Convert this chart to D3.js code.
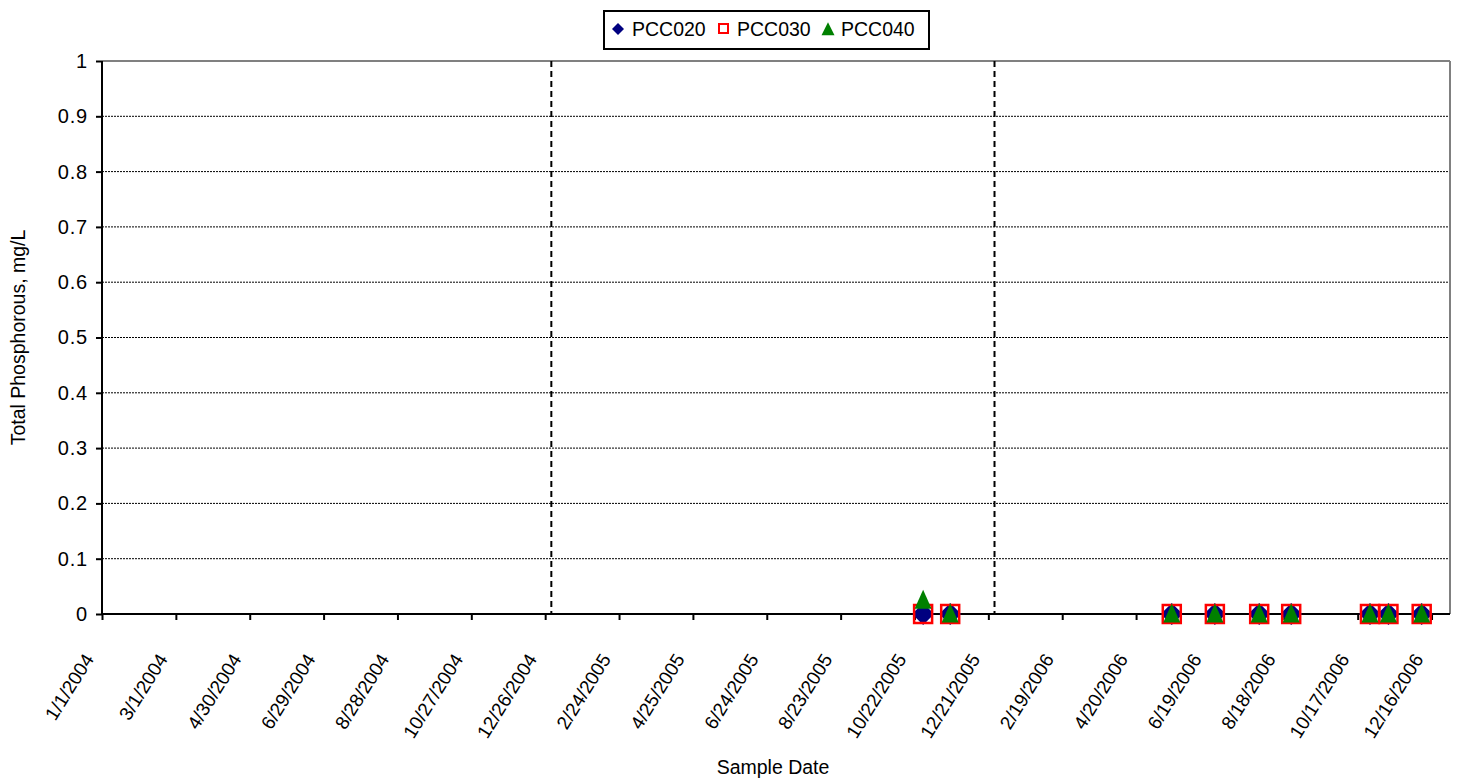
<!DOCTYPE html>
<html><head><meta charset="utf-8">
<script src="https://cdn.jsdelivr.net/npm/d3@7"></script>
<style>body{margin:0;background:#fff;}svg{display:block;font-family:"Liberation Sans",Arial,sans-serif;}</style>
</head><body>
<script>
const tickDates = ["2004-01-01","2004-03-01","2004-04-30","2004-06-29","2004-08-28","2004-10-27","2004-12-26","2005-02-24","2005-04-25","2005-06-24","2005-08-23","2005-10-22","2005-12-21","2006-02-19","2006-04-20","2006-06-19","2006-08-18","2006-10-17","2006-12-16"];
const tickLabels = ["1/1/2004","3/1/2004","4/30/2004","6/29/2004","8/28/2004","10/27/2004","12/26/2004","2/24/2005","4/25/2005","6/24/2005","8/23/2005","10/22/2005","12/21/2005","2/19/2006","4/20/2006","6/19/2006","8/18/2006","10/17/2006","12/16/2006"];
const yTicks = [0,0.1,0.2,0.3,0.4,0.5,0.6,0.7,0.8,0.9,1];
const yLabels = ["0","0.1","0.2","0.3","0.4","0.5","0.6","0.7","0.8","0.9","1"];
const sampleDates = ["2005-10-29","2005-11-20","2006-05-19","2006-06-23","2006-07-29","2006-08-24","2006-10-27","2006-11-11","2006-12-08"];
const pcc020 = [0,0,0,0,0,0,0,0,0];
const pcc030 = [0,0,0,0,0,0,0,0,0];
const pcc040 = [0.025,0,0,0,0,0,0,0,0];
const yearLines = ["2004-12-31","2005-12-26"];
const seriesNames = ["PCC020","PCC030","PCC040"];
const xDomain = ["2004-01-01","2006-12-31"];

const W=1463,H=781;
const L=102,R=1450,T=61,B=614;
const pd = s => new Date(s+"T00:00:00Z");
const svg=d3.select("body").append("svg").attr("width",W).attr("height",H);
const x=d3.scaleUtc().domain(xDomain.map(pd)).range([L,R]);
const y=d3.scaleLinear().domain([0,1]).range([B,T]);

// gridlines
svg.append("g").selectAll("line").data(yTicks.filter(v=>v>0&&v<1)).join("line")
  .attr("x1",L).attr("x2",R).attr("y1",d=>y(d)).attr("y2",d=>y(d))
  .attr("stroke","#000").attr("stroke-width",1).attr("stroke-dasharray","2,1");
// border top/right
svg.append("line").attr("x1",L).attr("x2",R).attr("y1",y(1)).attr("y2",y(1)).attr("stroke","#808080").attr("stroke-width",2);
svg.append("line").attr("x1",R).attr("x2",R).attr("y1",T).attr("y2",B).attr("stroke","#808080").attr("stroke-width",2);
// year dashed lines
svg.append("g").selectAll("line").data(yearLines).join("line")
  .attr("x1",d=>x(pd(d))).attr("x2",d=>x(pd(d))).attr("y1",T).attr("y2",B)
  .attr("stroke","#000").attr("stroke-width",2).attr("stroke-dasharray","6,4");

// y axis
const yAxis=d3.axisLeft(y).tickValues(yTicks).tickFormat((d,i)=>yLabels[i]).tickSize(6).tickPadding(8);
const gy=svg.append("g").attr("transform",`translate(${L},0)`).call(yAxis);
gy.select(".domain").attr("stroke","#000").attr("stroke-width",2).attr("d",`M0,${T}V${B}`);
gy.selectAll(".tick line").attr("stroke","#000").attr("stroke-width",2);
gy.selectAll(".tick text").attr("font-size",20).attr("letter-spacing","0.8px").attr("fill","#000").attr("font-family","Liberation Sans, Arial, sans-serif");

// x axis
const xAxis=d3.axisBottom(x).tickValues(tickDates.map(pd)).tickFormat((d,i)=>tickLabels[i]).tickSize(6);
const gx=svg.append("g").attr("transform",`translate(0,${B})`).call(xAxis);
gx.select(".domain").attr("stroke","#000").attr("stroke-width",2).attr("d",`M${L},0H${R}`);
gx.selectAll(".tick line").attr("stroke","#000").attr("stroke-width",2);
gx.selectAll(".tick text").attr("font-size",19).attr("fill","#000").attr("font-family","Liberation Sans, Arial, sans-serif")
  .attr("text-anchor","end").attr("dy",null).attr("y",0)
  .attr("transform","translate(-8,45) rotate(-58)");

// markers
const diamond = (cx,cy,r)=>`M${cx},${cy-r}L${cx+r},${cy}L${cx},${cy+r}L${cx-r},${cy}Z`;
const tri = (cx,cy,w,h)=>`M${cx},${cy-h*0.6}L${cx+w/2},${cy+h*0.4}L${cx-w/2},${cy+h*0.4}Z`;
const pts = sampleDates.map((d,i)=>({d:pd(d),a:pcc020[i],b:pcc030[i],c:pcc040[i]}));
svg.append("g").selectAll("path").data(pts).join("path")
  .attr("d",p=>diamond(x(p.d),y(p.a),11)).attr("fill","#000080");
svg.append("g").selectAll("rect").data(pts).join("rect")
  .attr("x",p=>x(p.d)-9).attr("y",p=>y(p.b)-9).attr("width",18).attr("height",18)
  .attr("fill","none").attr("stroke","#ff0000").attr("stroke-width",2.5);
svg.append("g").selectAll("path").data(pts).join("path")
  .attr("d",p=>tri(x(p.d),y(p.c)+1,17,19)).attr("fill","#008000");

// axis titles
svg.append("text").attr("x",(L+R)/2-3).attr("y",774).attr("text-anchor","middle").attr("font-size",19.5).text("Sample Date");
svg.append("text").attr("transform",`translate(25,${(T+B)/2}) rotate(-90)`).attr("text-anchor","middle").attr("font-size",19.5).text("Total Phosphorous, mg/L");

// legend
const lg=svg.append("g");
lg.append("rect").attr("x",604).attr("y",11).attr("width",325).attr("height",38).attr("fill","#fff").attr("stroke","#000").attr("stroke-width",2);
const ly=29;
lg.append("path").attr("d",diamond(618,ly,6)).attr("fill","#000080");
lg.append("rect").attr("x",719).attr("y",ly-5).attr("width",9).attr("height",9).attr("fill","none").attr("stroke","#ff0000").attr("stroke-width",2);
lg.append("path").attr("d",tri(828,ly+1,13,13)).attr("fill","#008000");
const lx=[632,737,841];
lg.selectAll("text").data(seriesNames).join("text").attr("x",(d,i)=>lx[i]).attr("y",ly+7).attr("font-size",19.5).text(d=>d);
</script>
</body></html>
